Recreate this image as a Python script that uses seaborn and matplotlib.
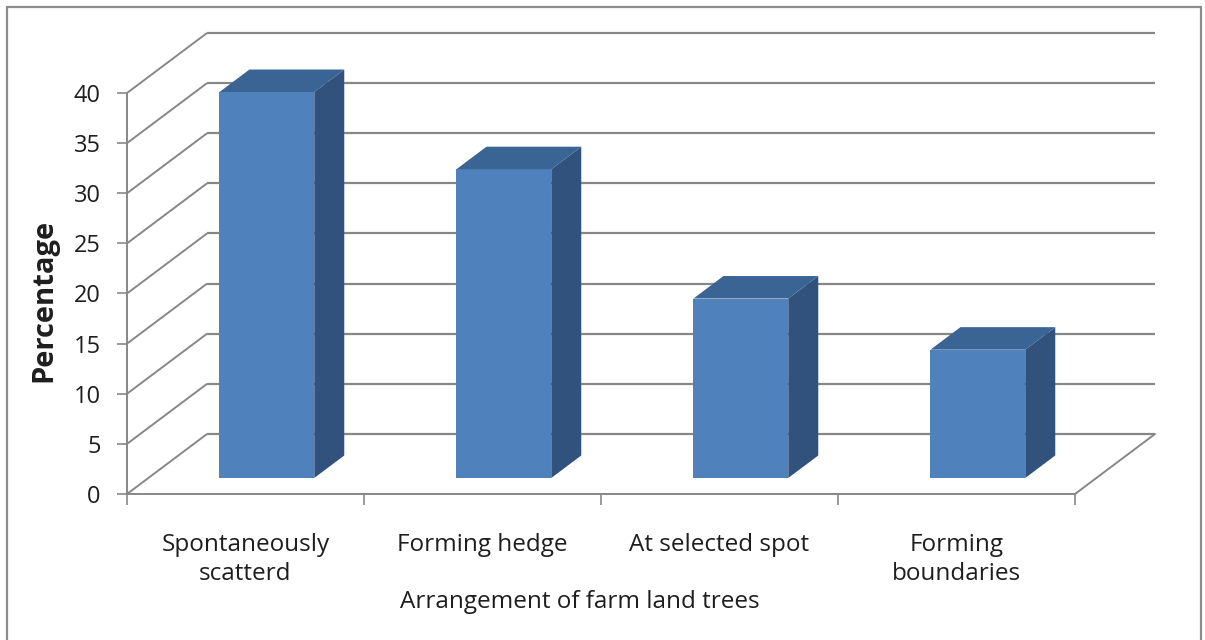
import matplotlib
matplotlib.use("Agg")
import matplotlib.pyplot as plt
import seaborn as sns
from matplotlib.patches import Polygon, Rectangle

# Share of farm land trees by arrangement (%)
categories = ["Spontaneously\nscatterd", "Forming hedge", "At selected spot", "Forming\nboundaries"]
percentages = [38.5, 30.8, 17.9, 12.8]
y_ticks = list(range(0, 45, 5))
x_title = "Arrangement of farm land trees"
y_title = "Percentage"

sns.set_theme(style="white")
plt.rcParams["font.family"] = ["Open Sans", "DejaVu Sans"]

W, H = 1205, 640
fig = plt.figure(figsize=(W / 100, H / 100), dpi=100)
ax = fig.add_axes([0, 0, 1, 1])

front_col = "#4F81BD"
side_col = "#30527D"
top_col = "#3A6494"
grid_col = "#878787"
text_col = "#1e1e1e"

# Pixel geometry of the front plane of the 3-D box
X0_PX, UNIT_X_PX = 127, 237.0      # x = -0.5 sits at X0_PX, one category per UNIT_X_PX
Y0_PX, UNIT_Y_PX = 494, 10.025     # y = 0 sits at Y0_PX (from top)
DX = 80 / UNIT_X_PX                # depth offset of the back wall (data units)
DY = 60 / UNIT_Y_PX
F_FRONT, F_DEPTH = 0.267, 0.375    # bar position and thickness along depth

sns.barplot(x=categories, y=percentages, color=front_col, saturation=1,
            width=0.40, ax=ax, zorder=3, linewidth=0)

# Push each bar back into the box and give it a side and a top face
for p in list(ax.patches):
    x0, w, h = p.get_x(), p.get_width(), p.get_height()
    bx, by = x0 + F_FRONT * DX, F_FRONT * DY
    p.set_x(bx)
    p.set_y(by)
    ddx, ddy = F_DEPTH * DX, F_DEPTH * DY
    side = Polygon([(bx + w, by), (bx + w + ddx, by + ddy),
                    (bx + w + ddx, by + h + ddy), (bx + w, by + h)],
                   closed=True, facecolor=side_col, edgecolor="none", zorder=3)
    top = Polygon([(bx, by + h), (bx + ddx, by + h + ddy),
                   (bx + w + ddx, by + h + ddy), (bx + w, by + h)],
                  closed=True, facecolor=top_col, edgecolor="none", zorder=3)
    ax.add_patch(side)
    ax.add_patch(top)

n = len(categories)
x_left, x_right = -0.5, n - 0.5

# Back wall gridlines with their diagonal links to the value axis
for t in y_ticks:
    ax.plot([x_left, x_left + DX], [t, t + DY], color=grid_col, lw=1.4, zorder=1,
            solid_capstyle="butt")
    ax.plot([x_left + DX, x_right + DX], [t + DY, t + DY], color=grid_col, lw=1.6,
            zorder=1, solid_capstyle="butt")
# Right edge of the floor
ax.plot([x_right, x_right + DX], [0, DY], color=grid_col, lw=1.4, zorder=1)

ax.set_xlim(x_left - X0_PX / UNIT_X_PX, x_left + (W - X0_PX) / UNIT_X_PX)
ax.set_ylim(-(H - Y0_PX) / UNIT_Y_PX, Y0_PX / UNIT_Y_PX)

for s in ("top", "right"):
    ax.spines[s].set_visible(False)
ax.spines["left"].set_position(("data", x_left))
ax.spines["left"].set_bounds(0, 40)
ax.spines["bottom"].set_position(("data", 0))
ax.spines["bottom"].set_bounds(x_left, x_right)
for s in ("left", "bottom"):
    ax.spines[s].set_color(grid_col)
    ax.spines[s].set_linewidth(1.4)
    ax.spines[s].set_zorder(2)

ax.set_yticks(y_ticks)
ax.set_yticklabels([str(t) for t in y_ticks])
ax.tick_params(axis="y", which="major", direction="out", length=7, width=1.2,
               color=grid_col, pad=12, labelsize=17, labelcolor=text_col, left=True)
ax.set_xticks(range(n))
ax.set_xticklabels(categories, linespacing=1.3)
ax.set_xticks([i - 0.5 for i in range(n + 1)], minor=True)
ax.tick_params(axis="x", which="major", length=0, pad=28, labelsize=17.5,
               labelcolor=text_col)
ax.tick_params(axis="x", which="minor", direction="out", length=8, width=1.2,
               color=grid_col, bottom=True)
ax.grid(False)

ax.set_xlabel(x_title, fontsize=17.5, color=text_col)
ax.xaxis.set_label_coords(580 / W, 1 - 590 / H)
ax.set_ylabel(y_title, fontsize=21, fontweight="bold", color=text_col)
ax.yaxis.set_label_coords(58 / W, 1 - 300 / H)

# Chart-area frame
fig.patches.append(Rectangle((7 / W, -0.05), (1201 - 7) / W, 1 - 7 / H + 0.05,
                             transform=fig.transFigure, fill=False,
                             edgecolor="#8c8c8c", lw=1.6, zorder=10))

fig.savefig("out.png", dpi=100, facecolor="white")
